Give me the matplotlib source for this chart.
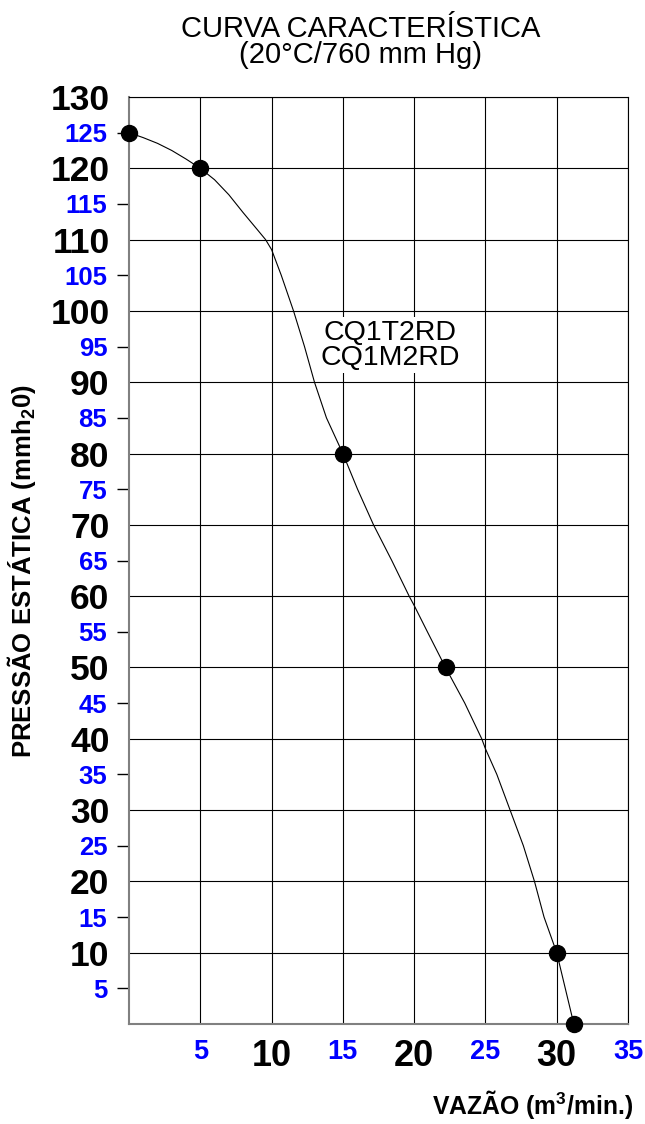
import numpy as np
import matplotlib.pyplot as plt

plt.rcParams['font.family'] = ['Liberation Sans', 'DejaVu Sans']
plt.rcParams['mathtext.fontset'] = 'custom'
plt.rcParams['mathtext.rm'] = 'Liberation Sans'
plt.rcParams['mathtext.bf'] = 'Liberation Sans:bold'

# pontos medidos (vazao m3/min, pressao mmH2O)
vazao = [0, 5, 15, 22.2, 30, 31.2]
pressao = [125, 120, 80, 50, 10, 0]

# curva
curva_x = [0, 1, 2, 3, 4, 5, 6, 7, 8, 9, 9.58, 10, 10.68, 11.54, 12.31,
           13.01, 13.85, 15, 16.03, 17.15, 18.43, 19.65, 20, 20.93, 22.2,
           23.55, 24.74, 25, 25.8, 26.73, 27.66, 28.44, 29.11, 30, 31.2]
curva_y = [125, 124.3, 123.5, 122.5, 121.3, 120, 118.4, 116.3, 113.8, 111.4,
           110, 108.6, 105, 100, 95, 90, 85, 80, 75, 70, 65, 60, 58.7, 55, 50,
           45, 40, 38.6, 35, 30, 25, 20, 15, 10, 0]

y_major = list(range(10, 131, 10))
y_minor = list(range(5, 126, 10))
x_major = [10, 20, 30]
x_minor = [5, 15, 25, 35]

fig = plt.figure(figsize=(6.45, 11.24), dpi=100)
ax = fig.add_axes([129 / 645, 1 - 1024 / 1124, (628 - 129) / 645, (1024 - 97) / 1124])

ax.plot(curva_x, curva_y, color='black', lw=0.8, zorder=3)
ax.plot(vazao, pressao, 'o', color='black', ms=11.5, clip_on=False, zorder=4)

ax.set_xlim(0, 35)
ax.set_ylim(0, 130)

ax.set_yticks(y_major)
ax.set_yticklabels([str(v) for v in y_major])
ax.set_yticks(y_minor, minor=True)
ax.set_yticklabels([str(v) for v in y_minor], minor=True)
ax.set_xticks(x_major)
ax.set_xticklabels([str(v) for v in x_major])
ax.set_xticks(x_minor, minor=True)
ax.set_xticklabels([str(v) for v in x_minor], minor=True)

ax.tick_params(axis='y', which='major', length=0, pad=14, labelsize=25.5)
ax.tick_params(axis='y', which='minor', length=8.6, width=1, pad=7,
               labelsize=18.5, labelcolor='blue')
ax.tick_params(axis='x', which='major', length=0, pad=11, labelsize=26)
ax.tick_params(axis='x', which='minor', length=0, pad=11, labelsize=19.5,
               labelcolor='blue')
for lab in ax.get_xticklabels(which='both') + ax.get_yticklabels(which='both'):
    lab.set_fontweight('bold')

ax.grid(True, axis='y', which='major', color='black', lw=0.8)
ax.grid(True, axis='x', which='both', color='black', lw=0.8)
for s in ['left', 'bottom']:
    ax.spines[s].set_color('#808080')
    ax.spines[s].set_linewidth(1.5)
for s in ['top', 'right']:
    ax.spines[s].set_color('black')
    ax.spines[s].set_linewidth(0.8)

ax.text(18.3, 95.2, 'CQ1T2RD\nCQ1M2RD', ha='center', va='center', fontsize=20.5,
        linespacing=0.95, zorder=2,
        bbox=dict(facecolor='white', edgecolor='none', pad=2))

fig.text(361 / 645, 1 - 42 / 1124, 'CURVA CARACTERÍSTICA\n(20°C/760 mm Hg)',
         ha='center', va='center', fontsize=21, linespacing=0.95)
fig.text(22 / 645, 1 - 571 / 1124, r'PRESSÃO ESTÁTICA (mmh$\mathbf{_2}$0)',
         rotation=90, ha='center', va='center', fontsize=18.5, fontweight='bold')
fig.text(633 / 645, 0.003, r'VAZÃO (m$\mathbf{^3}$/min.)',
         ha='right', va='bottom', fontsize=17.8, fontweight='bold')

fig.savefig('out.png', dpi=100)
